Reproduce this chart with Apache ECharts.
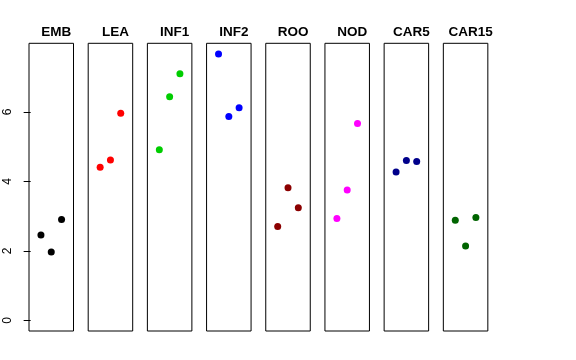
<!DOCTYPE html>
<html>
<head>
<meta charset="utf-8">
<script src="https://cdn.jsdelivr.net/npm/echarts@6/dist/echarts.min.js"></script>
<style>html,body{margin:0;padding:0;background:#fff}#c{width:576px;height:360px}</style>
</head>
<body>
<div id="c"></div>
<script>
// Panel names and colours
const panels = ["EMB", "LEA", "INF1", "INF2", "ROO", "NOD", "CAR5", "CAR15"];
const colors = ["#000000", "#FF0000", "#00CD00", "#0000FF", "#8B0000", "#FF00FF", "#00008B", "#006400"];
// Three replicate values per panel (x positions 1,2,3)
const xPos = [1, 2, 3];
const EMB   = [2.46, 1.97, 2.90];
const LEA   = [4.41, 4.62, 5.96];
const INF1  = [4.91, 6.44, 7.10];
const INF2  = [7.67, 5.87, 6.12];
const ROO   = [2.70, 3.82, 3.24];
const NOD   = [2.93, 3.75, 5.67];
const CAR5  = [4.27, 4.60, 4.57];
const CAR15 = [2.88, 2.14, 2.96];
const values = [EMB, LEA, INF1, INF2, ROO, NOD, CAR5, CAR15];
const yTicks = [0, 2, 4, 6];

// R-style limits: xlim c(0,4), ylim c(0,max) with 4% expansion
const yMax = 7.67;
const yPad = yMax * 0.04;
const xPad = 4 * 0.04;

const chart = echarts.init(document.getElementById('c'), null, {renderer: 'canvas'});
const grids = [], xAxes = [], yAxes = [], seriesList = [], titles = [];
const left0 = 29, step = 59.19, panelW = 44.5, panelTop = 43.3, panelH = 287.7;
panels.forEach((name, i) => {
  const l = left0 + i * step;
  grids.push({left: l, top: panelTop, width: panelW, height: panelH, show: true, borderColor: '#000', borderWidth: 1, backgroundColor: 'transparent', containLabel: false});
  xAxes.push({type: 'value', gridIndex: i, min: -xPad, max: 4 + xPad, show: false});
  yAxes.push({
    type: 'value', gridIndex: i, min: -yPad, max: yMax + yPad,
    splitLine: {show: false},
    axisLine: {show: false},
    axisTick: {show: i === 0, length: 7, inside: false, lineStyle: {color: '#000'}, customValues: yTicks},
    axisLabel: {show: i === 0, rotate: 90, margin: 15, fontSize: 12, color: '#000', fontFamily: 'Liberation Sans', customValues: yTicks}
  });
  seriesList.push({
    type: 'scatter', xAxisIndex: i, yAxisIndex: i, symbolSize: 7,
    itemStyle: {color: colors[i], opacity: 1},
    data: xPos.map((x, k) => [x, values[i][k]]),
    silent: true
  });
  titles.push({text: name, left: l + panelW / 2, top: 20, textAlign: 'center',
    textStyle: {fontSize: 13.5, fontWeight: 'bold', color: '#000', fontFamily: 'Liberation Sans'}});
});

chart.setOption({
  animation: false,
  title: titles,
  grid: grids,
  xAxis: xAxes,
  yAxis: yAxes,
  series: seriesList
});
</script>
</body>
</html>
